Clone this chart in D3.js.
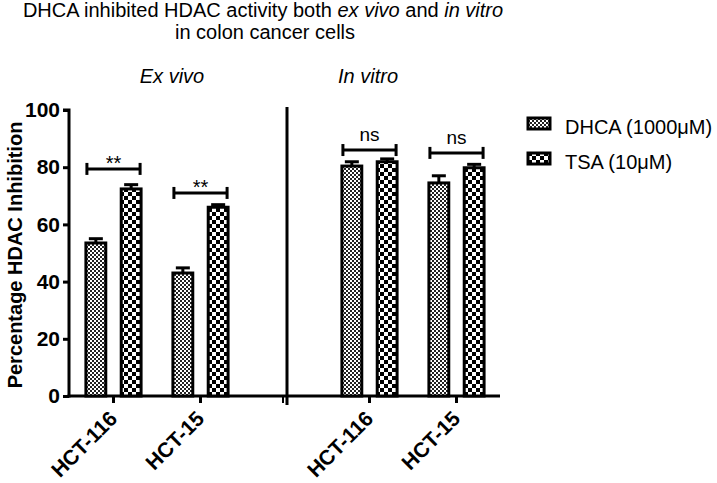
<!DOCTYPE html>
<html><head><meta charset="utf-8">
<script src="https://cdn.jsdelivr.net/npm/d3@7"></script>
<style>body{margin:0;background:#fff}svg{display:block}text{font-family:"Liberation Sans",Arial,sans-serif;fill:#000}</style>
</head><body><svg id="c" width="717" height="483"></svg>
<script>
// ---- data ----
const panels = ["Ex vivo", "In vitro"];
const cellLines = ["HCT-116", "HCT-15"];
const series = ["DHCA (1000\u03BCM)", "TSA (10\u03BCM)"];
// values [panel][cellLine] for each series
const dhcaValues = [[53.5, 43.0], [80.4, 74.5]];
const dhcaErrors = [[1.5, 1.8], [1.5, 2.5]];
const tsaValues  = [[72.4, 66.0], [81.9, 79.8]];
const tsaErrors  = [[1.5, 0.9], [1.0, 1.2]];
const sigLabels  = [["**", "**"], ["ns", "ns"]];
const sigLevels  = [[79.4, 71.0], [86.0, 85.0]];
const yTicks = [0, 20, 40, 60, 80, 100];

const svg = d3.select("#c");
const defs = svg.append("defs");
const p1 = defs.append("pattern").attr("id","pFine").attr("patternUnits","userSpaceOnUse").attr("width",4).attr("height",4);
p1.append("rect").attr("width",4).attr("height",4).attr("fill","#fff");
p1.append("rect").attr("width",2).attr("height",2).attr("fill","#222");
p1.append("rect").attr("x",2).attr("y",2).attr("width",2).attr("height",2).attr("fill","#222");
const p2 = defs.append("pattern").attr("id","pCoarse").attr("patternUnits","userSpaceOnUse").attr("width",8).attr("height",8);
p2.append("rect").attr("width",8).attr("height",8).attr("fill","#fff");
p2.append("rect").attr("width",4).attr("height",4).attr("fill","#000");
p2.append("rect").attr("x",4).attr("y",4).attr("width",4).attr("height",4).attr("fill","#000");
const fills = ["url(#pFine)", "url(#pCoarse)"];

const y = d3.scaleLinear().domain([0,100]).range([396,110]);
const xPanel = [
  d3.scaleBand().domain(cellLines).range([70,244]),
  d3.scaleBand().domain(cellLines).range([326,500])
];
const xInner = d3.scaleBand().domain(series).range([-32,32]).paddingInner(0.4375).paddingOuter(0.125);
const bw = xInner.bandwidth();

// title
const t = svg.append("text").attr("x",263).attr("y",17).attr("text-anchor","middle").style("font-size","20px");
t.append("tspan").text("DHCA inhibited HDAC activity both ");
t.append("tspan").style("font-style","italic").text("ex vivo");
t.append("tspan").text(" and ");
t.append("tspan").style("font-style","italic").text("in vitro");
svg.append("text").attr("x",265).attr("y",39).attr("text-anchor","middle").style("font-size","20px").text("in colon cancer cells");

const panelCenters = [172, 368];
panels.forEach((p,i)=>{
  svg.append("text").attr("x",panelCenters[i]).attr("y",83).attr("text-anchor","middle")
    .style("font-size","20px").style("font-style","italic").text(p);
});

// y axis
const yAxis = svg.append("g").attr("transform","translate(69,0)")
  .call(d3.axisLeft(y).tickValues(yTicks).tickSize(6).tickPadding(3));
yAxis.select(".domain").attr("stroke","#000").attr("stroke-width",3).attr("d","M-6,110H0V397.5");
yAxis.selectAll(".tick line").attr("stroke","#000").attr("stroke-width",3);
yAxis.selectAll(".tick text").style("font-size","21px").style("font-weight","bold").attr("font-family",null);

svg.append("text").attr("transform","translate(22,255) rotate(-90)").attr("text-anchor","middle")
  .style("font-size","20px").style("font-weight","bold").text("Percentage HDAC Inhibition");

// x axes
const xRanges = [[67.5,287],[287,500]];
xPanel.forEach((xs,pi)=>{
  const g = svg.append("g").attr("transform","translate(0,396)")
    .call(d3.axisBottom(xs).tickSize(7).tickFormat(""));
  g.select(".domain").attr("stroke","#000").attr("stroke-width",3).attr("d",`M${xRanges[pi][0]},0H${xRanges[pi][1]}`);
  g.selectAll(".tick line").attr("stroke","#000").attr("stroke-width",3);
  cellLines.forEach(c=>{
    const cx = xs(c)+xs.bandwidth()/2;
    svg.append("text").attr("transform",`translate(${cx+5},420) rotate(-45)`).attr("text-anchor","end")
      .style("font-size","21px").style("font-weight","bold").text(c);
  });
});
svg.append("line").attr("x1",287).attr("x2",287).attr("y1",107).attr("y2",405).attr("stroke","#000").attr("stroke-width",3);
svg.append("line").attr("x1",283).attr("x2",283).attr("y1",396).attr("y2",403).attr("stroke","#000").attr("stroke-width",2);

// bars
const allVals = [dhcaValues, tsaValues], allErr = [dhcaErrors, tsaErrors];
panels.forEach((p,pi)=>{
  const xs = xPanel[pi];
  cellLines.forEach((c,ci)=>{
    const cx = xs(c)+xs.bandwidth()/2;
    series.forEach((s,si)=>{
      const v = allVals[si][pi][ci], e = allErr[si][pi][ci];
      const bx = cx + xInner(s);
      const mx = bx + bw/2;
      svg.append("line").attr("x1",mx).attr("x2",mx).attr("y1",y(v)).attr("y2",y(v+e)).attr("stroke","#000").attr("stroke-width",3);
      svg.append("line").attr("x1",mx-7).attr("x2",mx+7).attr("y1",y(v+e)).attr("y2",y(v+e)).attr("stroke","#000").attr("stroke-width",3);
      svg.append("rect").attr("x",bx).attr("y",y(v)).attr("width",bw).attr("height",y(0)-y(v))
        .attr("fill",fills[si]).attr("stroke","#000").attr("stroke-width",3);
    });
    const x1 = cx + xInner(series[0]) + 1, x2 = cx + xInner(series[1]) + bw - 1;
    const yl = y(sigLevels[pi][ci]);
    const g = svg.append("g").attr("stroke","#000").attr("stroke-width",3);
    g.append("line").attr("x1",x1).attr("x2",x2).attr("y1",yl).attr("y2",yl);
    g.append("line").attr("x1",x1).attr("x2",x1).attr("y1",yl-6).attr("y2",yl+6);
    g.append("line").attr("x1",x2).attr("x2",x2).attr("y1",yl-6).attr("y2",yl+6);
    const lab = sigLabels[pi][ci];
    svg.append("text").attr("x",(x1+x2)/2).attr("y", lab==="ns" ? yl-9 : yl+1).attr("text-anchor","middle")
      .style("font-size", lab==="ns" ? "19px" : "20px").text(lab);
  });
});

// legend
series.forEach((s,i)=>{
  const ly = 118 + i*35;
  svg.append("rect").attr("x",528).attr("y",ly).attr("width",22).attr("height",11)
    .attr("fill",fills[i]).attr("stroke","#000").attr("stroke-width",3);
  svg.append("text").attr("x",565).attr("y",ly+16).style("font-size","20px").text(s);
});
</script></body></html>
